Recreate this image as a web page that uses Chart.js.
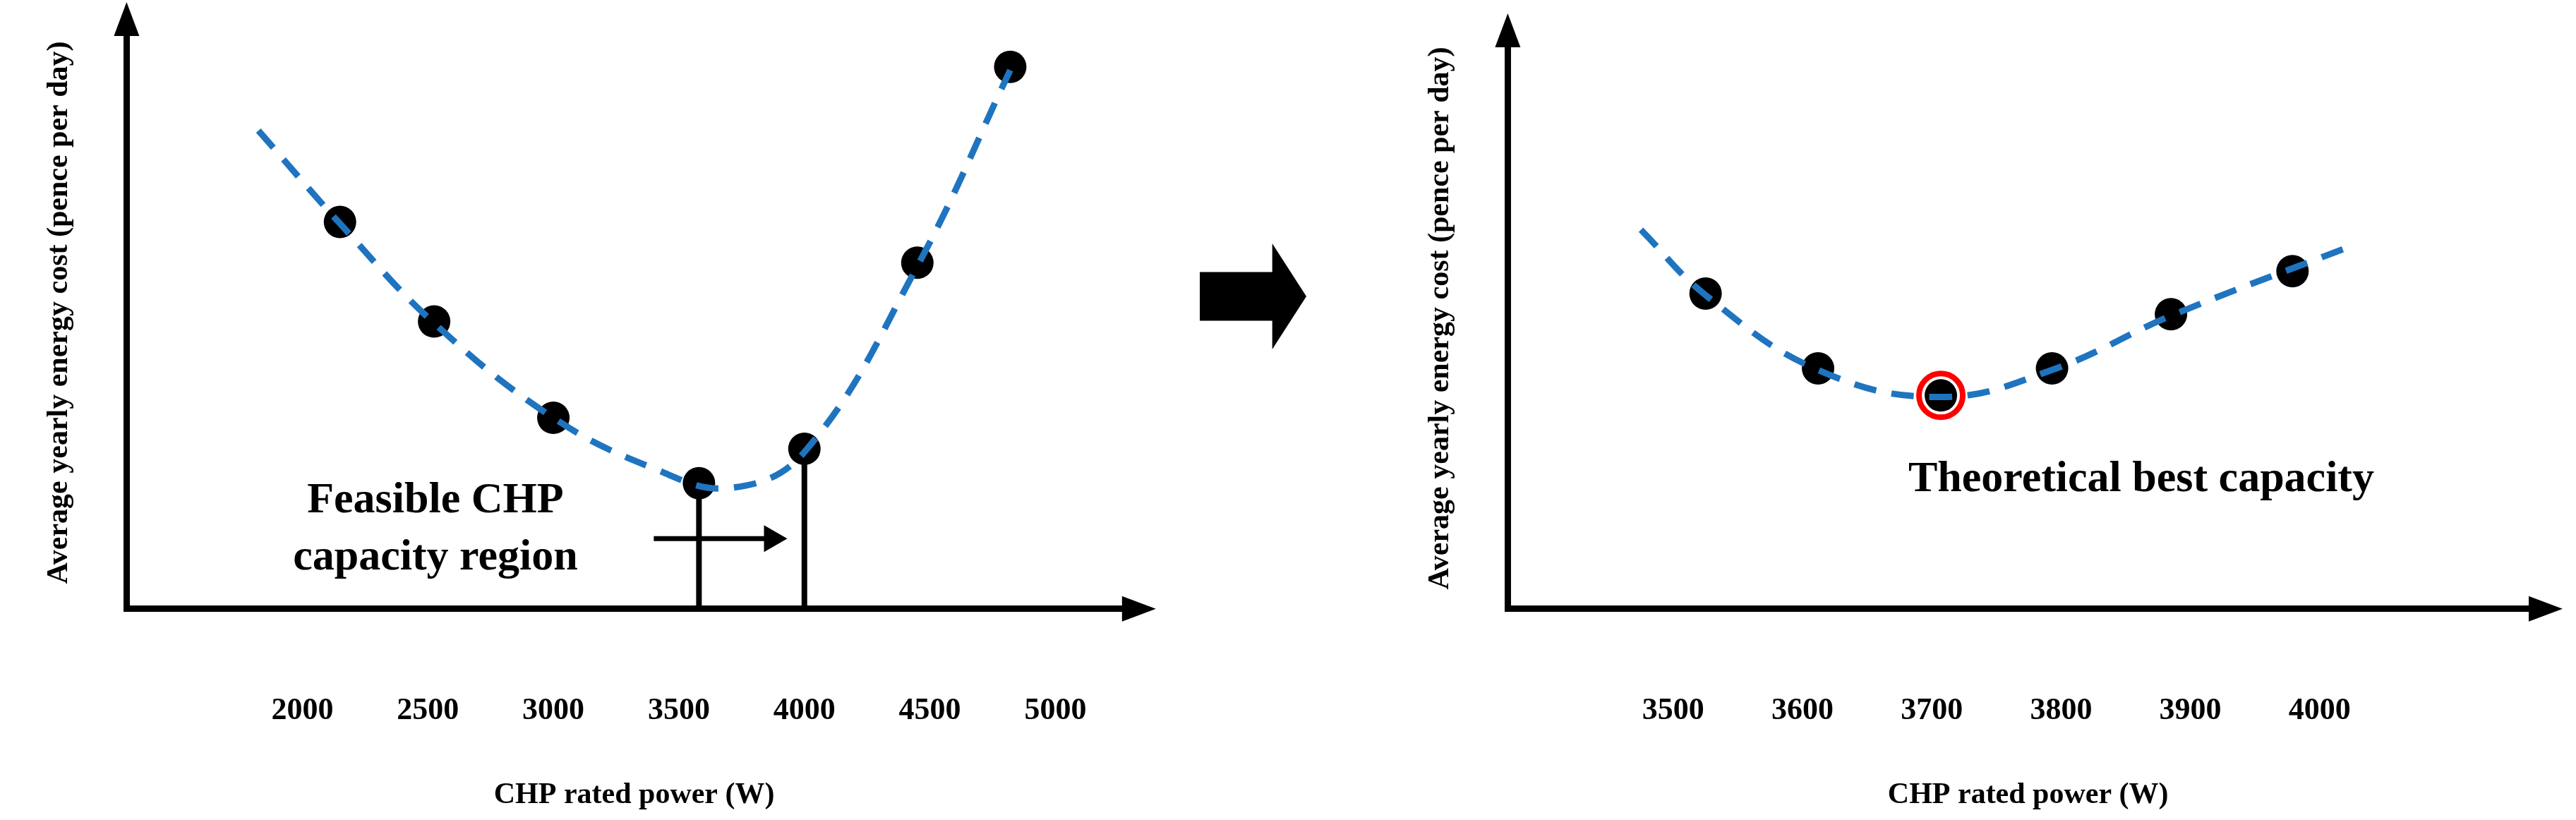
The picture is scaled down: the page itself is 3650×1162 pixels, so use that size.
<!DOCTYPE html>
<html>
<head>
<meta charset="utf-8">
<script src="https://cdn.jsdelivr.net/npm/chart.js@4"></script>
<style>
  body { margin: 0; background: #fff; width: 3650px; height: 1162px; position: relative; overflow: hidden; }
  .box { position: absolute; top: 0; height: 1162px; }
  #bigArrow { position: absolute; left: 1700px; top: 345px; width: 151px; height: 150px; background: #000;
    clip-path: polygon(0 27%, 68% 27%, 68% 0, 100% 50%, 68% 100%, 68% 73%, 0 73%); }
</style>
</head>
<body>
<div class="box" style="left:0;width:1660px"><canvas id="left"></canvas></div>
<div id="bigArrow"></div>
<div class="box" style="left:1840px;width:1810px"><canvas id="right"></canvas></div>
<script>
// left chart data
var leftTicks = [2000, 2500, 3000, 3500, 4000, 4500, 5000];
var leftPower = [2150, 2525, 3000, 3580, 4000, 4450, 4820];
var leftCost = [237, 176, 117, 77, 98, 212, 332];
var leftCurveX = [1825, 2150, 2525, 3000, 3400, 3700, 4000, 4450, 4820];
var leftCurveY = [293, 236, 175, 117, 86, 74, 96, 210, 330];
var feasibleLines = [3580, 4000];
var feasibleArrowX = [3400, 3870];
var feasibleArrowY = 43;

// right chart data
var rightTicks = [3500, 3600, 3700, 3800, 3900, 4000];
var rightPower = [3525, 3612, 3707, 3793, 3885, 3979];
var rightCost = [198, 151, 134, 151, 185, 212];
var rightCurveX = [3475, 3525, 3612, 3707, 3793, 3885, 4025];
var rightCurveY = [238, 197, 150, 133, 150, 184, 228];
var bestPower = 3707;
var bestCost = 134;

var FONT = '"Liberation Serif", "Times New Roman", serif';
var BLUE = '#1f74c0';

var axisArrows = {
  id: 'axisArrows',
  afterDraw: function(chart) {
    var a = chart.chartArea, c = chart.ctx;
    c.save();
    c.fillStyle = '#000';
    c.beginPath();
    c.moveTo(a.left, a.top - 20); c.lineTo(a.left - 18, a.top + 28); c.lineTo(a.left + 18, a.top + 28);
    c.closePath(); c.fill();
    c.beginPath();
    c.moveTo(a.right + 20, a.bottom); c.lineTo(a.right - 28, a.bottom - 18); c.lineTo(a.right - 28, a.bottom + 18);
    c.closePath(); c.fill();
    c.restore();
  }
};

var labels = {
  id: 'labels',
  afterDatasetsDraw: function(chart) {
    var opt = chart.options.plugins.labels;
    if (!opt) return;
    var c = chart.ctx, x = chart.scales.x, y = chart.scales.y;
    c.save();
    c.fillStyle = '#000';
    c.font = 'bold 62px ' + FONT;
    c.textAlign = 'center';
    c.textBaseline = 'middle';
    opt.items.forEach(function(it) {
      c.fillText(it.text, x.getPixelForValue(it.x), y.getPixelForValue(it.y));
    });
    c.restore();
  }
};

function pts(xs, ys) { return xs.map(function(v, i) { return { x: v, y: ys[i] }; }); }

function makeOptions(xmin, xmax, ymax, ticks, padLeft, labelItems) {
  return {
    responsive: true,
    maintainAspectRatio: false,
    animation: false,
    layout: { padding: { top: 23, right: 30, left: padLeft, bottom: 0 } },
    plugins: { legend: { display: false }, tooltip: { enabled: false }, labels: { items: labelItems } },
    scales: {
      x: {
        type: 'linear', min: xmin, max: xmax,
        grid: { display: false, drawTicks: false },
        border: { color: '#000', width: 9 },
        afterBuildTicks: function(s) { s.ticks = ticks.map(function(v) { return { value: v }; }); },
        ticks: { color: '#000', padding: 118, font: { family: FONT, size: 44, weight: 'bold' },
          callback: function(v) { return String(v); } },
        title: { display: true, text: 'CHP rated power (W)', color: '#000', padding: { top: -50, bottom: 10 },
          font: { family: FONT, size: 42, weight: 'bold' } }
      },
      y: {
        min: 0, max: ymax,
        grid: { display: false, drawTicks: false },
        border: { color: '#000', width: 9 },
        ticks: { display: false },
        title: { display: true, text: 'Average yearly energy cost (pence per day)', color: '#000',
          padding: { bottom: 70 }, font: { family: FONT, size: 42, weight: 'bold' } }
      }
    }
  };
}

var leftDatasets = [
  { type: 'line', data: pts(leftCurveX, leftCurveY), borderColor: BLUE, borderWidth: 9,
    borderDash: [32, 22], tension: 0.4, pointRadius: 0, fill: false },
  { type: 'scatter', data: pts(leftPower, leftCost), backgroundColor: '#000', pointRadius: 23, borderWidth: 0 }
];
feasibleLines.forEach(function(v) {
  leftDatasets.push({ type: 'line', data: [{ x: v, y: 0 }, { x: v, y: leftCost[leftPower.indexOf(v)] }],
    borderColor: '#000', borderWidth: 8, pointRadius: 0 });
});
leftDatasets.push({ type: 'line', data: [{ x: feasibleArrowX[0], y: feasibleArrowY }, { x: feasibleArrowX[1], y: feasibleArrowY }],
  borderColor: '#000', borderWidth: 7, pointRadius: [0, 22], pointStyle: 'triangle', rotation: 90,
  pointBackgroundColor: '#000', pointBorderWidth: 0 });

new Chart(document.getElementById('left'), {
  type: 'scatter',
  data: { datasets: leftDatasets },
  options: makeOptions(1300, 5344, 363, leftTicks, 55,
    [{ text: 'Feasible CHP', x: 2530, y: 66 }, { text: 'capacity region', x: 2530, y: 31 }]),
  plugins: [axisArrows, labels]
});

new Chart(document.getElementById('right'), {
  type: 'scatter',
  data: { datasets: [
    { type: 'line', data: pts(rightCurveX, rightCurveY), borderColor: BLUE, borderWidth: 9,
      borderDash: [32, 22], tension: 0.4, pointRadius: 0, fill: false },
    { type: 'scatter', data: pts(rightPower, rightCost), backgroundColor: '#000', pointRadius: 23, borderWidth: 0 },
    { type: 'scatter', data: [{ x: bestPower, y: bestCost }], backgroundColor: 'rgba(0,0,0,0)',
      borderColor: '#ff0000', borderWidth: 8, pointRadius: 31 }
  ] },
  options: makeOptions(3372, 4177, 365, rightTicks, 172,
    [{ text: 'Theoretical best capacity', x: 3862, y: 81 }]),
  plugins: [axisArrows, labels]
});
</script>
</body>
</html>
